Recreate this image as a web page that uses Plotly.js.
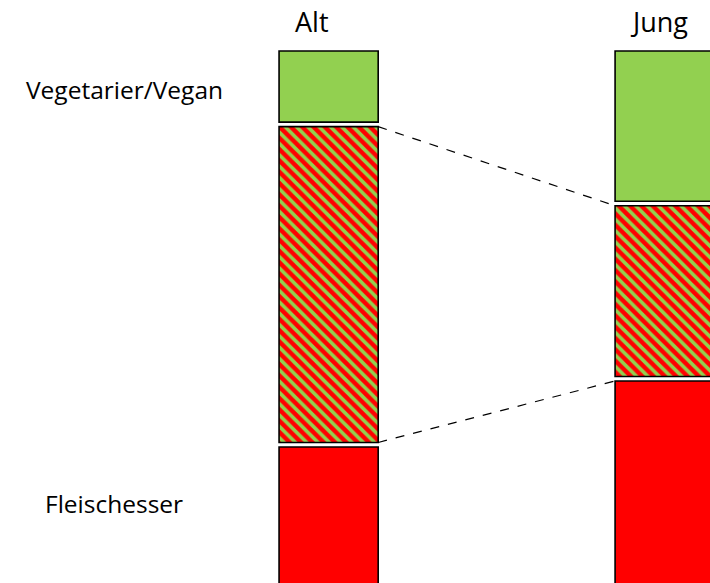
<!DOCTYPE html>
<html>
<head>
<meta charset="utf-8">
<script src="https://cdn.plot.ly/plotly-3.0.1.min.js"></script>
<style>html,body{margin:0;padding:0;background:#fff;}#chart{width:710px;height:583px;}</style>
</head>
<body>
<div id="chart"></div>
<script>
// Data (share of group, %, from top of bar downwards)
const groups = ["Alt", "Jung"];
const vegValues = [12.5, 26.4];     // Vegetarier/Vegan
const mixedValues = [55.5, 30.0];   // Gemischt (hatched)
const meatValues = [32.0, 43.6];    // Fleischesser
const rowLabels = ["Vegetarier/Vegan", "Fleischesser"];

const GREEN = "#92D050", RED = "#FF0000";
const gap = 0.8, barW = 0.295;
const xs = groups.map((g, i) => i);

const vegBase = xs.map(() => 0);
const mixBase = xs.map(i => vegValues[i] + gap);
const meatBase = xs.map(i => mixBase[i] + mixedValues[i] + gap);

const line = {color: "#000", width: 1.6};
const traces = [
  {type: "bar", x: xs, y: vegValues, base: vegBase, width: barW,
   marker: {color: GREEN, line: line}, hoverinfo: "skip"},
  {type: "bar", x: xs, y: mixedValues, base: mixBase, width: barW,
   marker: {color: RED, line: line,
            pattern: {shape: "\\", fgcolor: GREEN, bgcolor: RED, size: 8, solidity: 0.45}},
   hoverinfo: "skip"},
  {type: "bar", x: xs, y: meatValues, base: meatBase, width: barW,
   marker: {color: RED, line: line}, hoverinfo: "skip"},
  // dashed connectors between the hatched segments
  {type: "scatter", mode: "lines", x: [xs[0] + barW / 2, xs[1] - barW / 2],
   y: [mixBase[0], mixBase[1]], line: {color: "#000", width: 1.2, dash: "dash"}, hoverinfo: "skip"},
  {type: "scatter", mode: "lines", x: [xs[0] + barW / 2, xs[1] - barW / 2],
   y: [mixBase[0] + mixedValues[0], meatBase[1]], line: {color: "#000", width: 1.2, dash: "dash"}, hoverinfo: "skip"}
];

const font = {family: "'Open Sans', Lato, sans-serif", color: "#000"};
const layout = {
  width: 710, height: 583,
  margin: {l: 0, r: 0, t: 0, b: 0},
  paper_bgcolor: "#fff", plot_bgcolor: "#fff",
  showlegend: false, barmode: "overlay",
  xaxis: {range: [-0.978, 1.135], visible: false, fixedrange: true},
  yaxis: {range: [93.5, -8.96], visible: false, fixedrange: true},
  annotations: [
    {text: groups[0], xref: "paper", yref: "paper", x: 312 / 710, y: 1 - 22 / 583,
     showarrow: false, font: Object.assign({size: 27}, font), xanchor: "center", yanchor: "middle"},
    {text: groups[1], xref: "paper", yref: "paper", x: 659 / 710, y: 1 - 22 / 583,
     showarrow: false, font: Object.assign({size: 27}, font), xanchor: "center", yanchor: "middle"},
    {text: rowLabels[0], xref: "paper", yref: "paper", x: 125 / 710, y: 1 - 89 / 583,
     showarrow: false, font: Object.assign({size: 24.5}, font), xanchor: "center", yanchor: "middle"},
    {text: rowLabels[1], xref: "paper", yref: "paper", x: 114 / 710, y: 1 - 503 / 583,
     showarrow: false, font: Object.assign({size: 24.5}, font), xanchor: "center", yanchor: "middle"}
  ]
};
Plotly.newPlot("chart", traces, layout, {displayModeBar: false, staticPlot: true});
</script>
</body>
</html>
